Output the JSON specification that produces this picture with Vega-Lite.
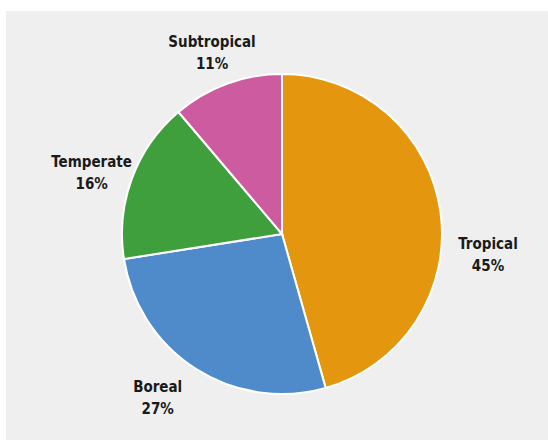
{
  "$schema": "https://vega.github.io/schema/vega-lite/v6.json",
  "autosize": "none",
  "width": 552,
  "height": 446,
  "padding": {"left": 6, "top": 11, "right": 0, "bottom": 0},
  "background": "white",
  "view": {"fill": "#efefef", "stroke": null},
  "data": {
    "values": [
      {"region": "Tropical", "share": 45.6, "lines": ["Tropical", "45%"], "order": 1},
      {"region": "Boreal", "share": 26.9, "lines": ["Boreal", "27%"], "order": 2},
      {"region": "Temperate", "share": 16.3, "lines": ["Temperate", "16%"], "order": 3},
      {"region": "Subtropical", "share": 11.2, "lines": ["Subtropical", "11%"], "order": 4}
    ]
  },
  "encoding": {
    "theta": {"field": "share", "type": "quantitative", "stack": true},
    "order": {"field": "order", "type": "quantitative"}
  },
  "layer": [
    {
      "mark": {"type": "arc", "outerRadius": 160, "stroke": "white", "strokeWidth": 2},
      "encoding": {
        "color": {
          "field": "region",
          "type": "nominal",
          "scale": {
            "domain": ["Tropical", "Boreal", "Temperate", "Subtropical"],
            "range": ["#E5960F", "#4F8BCB", "#3E9F3C", "#CC5BA0"]
          },
          "legend": null
        }
      }
    },
    {
      "mark": {"type": "text", "radius": 203, "dy": -1, "font": "DejaVu Sans Condensed, Liberation Sans, sans-serif", "fontWeight": "bold", "fontSize": 15, "lineHeight": 22, "align": "center", "baseline": "middle", "color": "#1a1a1a"},
      "encoding": {
        "text": {
          "condition": {"test": "datum.region === 'Tropical' || datum.region === 'Boreal'", "value": ""},
          "field": "lines"
        }
      }
    },
    {
      "mark": {"type": "text", "radius": 208, "dy": 39, "font": "DejaVu Sans Condensed, Liberation Sans, sans-serif", "fontWeight": "bold", "fontSize": 15, "lineHeight": 22, "align": "center", "baseline": "middle", "color": "#1a1a1a"},
      "encoding": {
        "text": {
          "condition": {"test": "datum.region !== 'Tropical'", "value": ""},
          "field": "lines"
        }
      }
    },
    {
      "mark": {"type": "text", "radius": 203, "dx": -15, "dy": -18, "font": "DejaVu Sans Condensed, Liberation Sans, sans-serif", "fontWeight": "bold", "fontSize": 15, "lineHeight": 22, "align": "center", "baseline": "middle", "color": "#1a1a1a"},
      "encoding": {
        "text": {
          "condition": {"test": "datum.region !== 'Boreal'", "value": ""},
          "field": "lines"
        }
      }
    }
  ]
}
